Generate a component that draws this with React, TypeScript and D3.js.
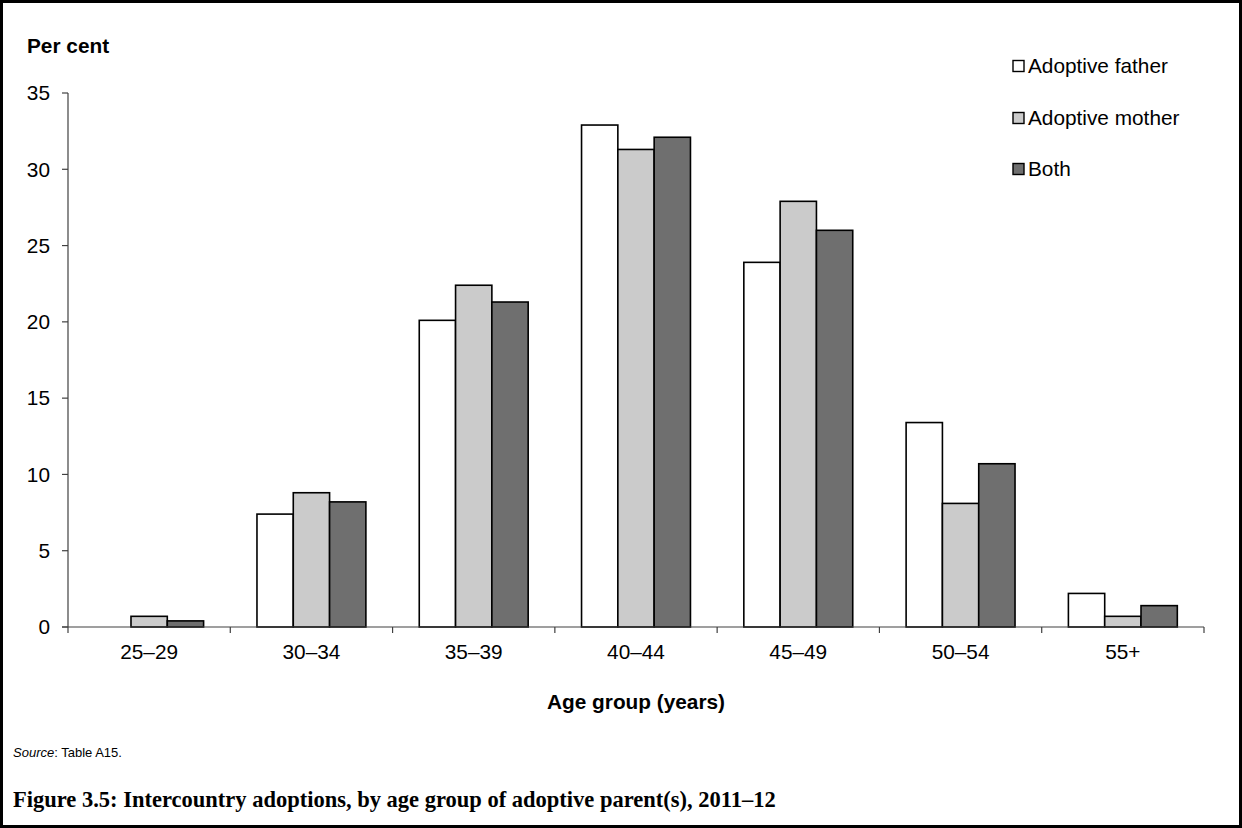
import React from "react";
import * as d3 from "d3";

const categories = ["25–29", "30–34", "35–39", "40–44", "45–49", "50–54", "55+"];
const seriesNames = ["Adoptive father", "Adoptive mother", "Both"];
const fatherValues = [0, 7.4, 20.1, 32.9, 23.9, 13.4, 2.2];
const motherValues = [0.7, 8.8, 22.4, 31.3, 27.9, 8.1, 0.7];
const bothValues = [0.4, 8.2, 21.3, 32.1, 26.0, 10.7, 1.4];
const seriesColors = ["#ffffff", "#cbcbcb", "#6f6f6f"];
const yTicks = [0, 5, 10, 15, 20, 25, 30, 35];

const W = 1242;
const H = 828;
const left = 68;
const right = 1204;
const top = 93;
const bottom = 627;
const FS = 20.8;

export default function App() {
  const x0 = d3.scaleBand<string>().domain(categories).range([left, right]).padding(0);
  const x1 = d3
    .scaleBand<string>()
    .domain(seriesNames)
    .range([0, x0.bandwidth()])
    .paddingInner(0)
    .paddingOuter(0.735);
  const y = d3.scaleLinear().domain([0, 35]).range([bottom, top]);
  const seriesData = [fatherValues, motherValues, bothValues];
  const font = "Arial, 'Liberation Sans', Helvetica, sans-serif";
  const boundaries = [...categories.map((c) => x0(c) as number), right];

  return (
    <svg
      width={W}
      height={H}
      viewBox={`0 0 ${W} ${H}`}
      style={{ position: "absolute", left: 0, top: 0, background: "#fff" }}
      fontFamily={font}
    >
      <rect x={0} y={0} width={W} height={H} fill="#fff" />
      <rect x={1.5} y={1.5} width={W - 3} height={H - 3} fill="none" stroke="#000" strokeWidth={3} />

      <text x={27} y={53} fontSize={FS} fontWeight="bold" fill="#000">
        Per cent
      </text>

      {/* y axis */}
      <line x1={left} x2={left} y1={top} y2={bottom} stroke="#404040" strokeWidth={1.2} />
      {yTicks.map((t) => (
        <g key={t}>
          <line x1={left - 6} x2={left} y1={y(t)} y2={y(t)} stroke="#404040" strokeWidth={1.2} />
          <text x={50} y={y(t)} dy="0.35em" textAnchor="end" fontSize={FS} fill="#000">
            {t}
          </text>
        </g>
      ))}

      {/* bars */}
      {categories.map((c, i) => (
        <g key={c} transform={`translate(${x0(c)},0)`}>
          {seriesNames.map((s, j) => {
            const v = seriesData[j][i];
            if (v <= 0) return null;
            return (
              <rect
                key={s}
                x={x1(s)}
                y={y(v)}
                width={x1.bandwidth()}
                height={y(0) - y(v)}
                fill={seriesColors[j]}
                stroke="#000"
                strokeWidth={1.6}
              />
            );
          })}
        </g>
      ))}

      {/* x axis */}
      <line x1={left - 6} x2={right} y1={bottom} y2={bottom} stroke="#404040" strokeWidth={1.2} />
      {boundaries.map((b, i) => (
        <line key={i} x1={b} x2={b} y1={bottom} y2={bottom + 6} stroke="#404040" strokeWidth={1.2} />
      ))}
      {categories.map((c) => (
        <text
          key={c}
          x={(x0(c) as number) + x0.bandwidth() / 2}
          y={659}
          textAnchor="middle"
          fontSize={FS}
          fill="#000"
        >
          {c}
        </text>
      ))}
      <text x={(left + right) / 2} y={709} textAnchor="middle" fontSize={FS} fontWeight="bold" fill="#000">
        Age group (years)
      </text>

      {/* legend */}
      {seriesNames.map((s, j) => {
        const cy = [66, 118, 169][j];
        return (
          <g key={s}>
            <rect x={1013} y={cy - 5.5} width={11} height={11} fill={seriesColors[j]} stroke="#000" strokeWidth={1.4} />
            <text x={1028} y={cy} dy="0.35em" fontSize={FS} fill="#000">
              {s}
            </text>
          </g>
        );
      })}

      <text x={13} y={757} fontSize={13} fill="#000">
        <tspan fontStyle="italic">Source</tspan>: Table A15.
      </text>

      <text
        x={13}
        y={807}
        fontSize={22.5}
        fontWeight="bold"
        fill="#000"
        fontFamily="'Liberation Serif', 'DejaVu Serif', serif"
      >
        Figure 3.5: Intercountry adoptions, by age group of adoptive parent(s), 2011–12
      </text>
    </svg>
  );
}
